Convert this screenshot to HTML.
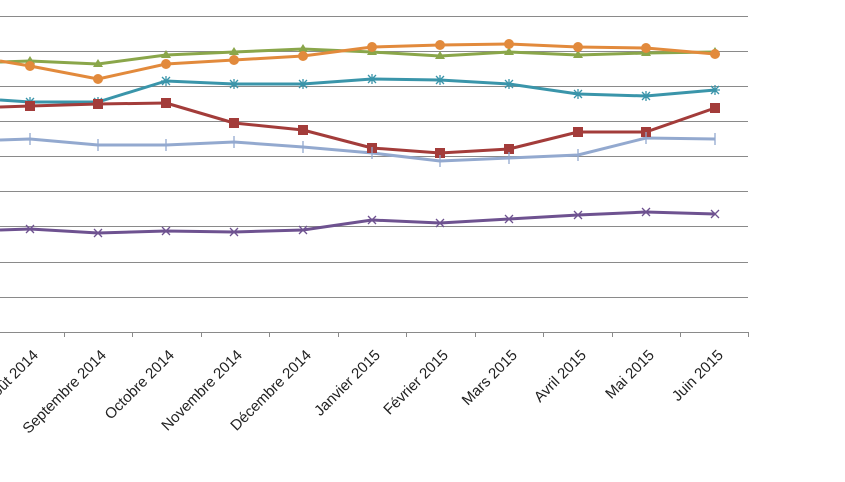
<!DOCTYPE html>
<html><head><meta charset="utf-8"><style>body{margin:0;background:#fff}svg{display:block}</style></head><body>
<svg width="845" height="482" xmlns="http://www.w3.org/2000/svg" font-family="Liberation Sans, sans-serif">
<g stroke="#8a8a8a" stroke-width="1">
<line x1="0" y1="16.5" x2="748" y2="16.5"/><line x1="0" y1="51.5" x2="748" y2="51.5"/><line x1="0" y1="86.5" x2="748" y2="86.5"/><line x1="0" y1="121.5" x2="748" y2="121.5"/><line x1="0" y1="156.5" x2="748" y2="156.5"/><line x1="0" y1="191.5" x2="748" y2="191.5"/><line x1="0" y1="226.5" x2="748" y2="226.5"/><line x1="0" y1="262.5" x2="748" y2="262.5"/><line x1="0" y1="297.5" x2="748" y2="297.5"/><line x1="0" y1="332.5" x2="748" y2="332.5"/>
<path d="M64.5 332v5M132.5 332v5M201.5 332v5M269.5 332v5M338.5 332v5M406.5 332v5M475.5 332v5M543.5 332v5M612.5 332v5M680.5 332v5M748.5 332v5"/>
</g>
<g fill="none" stroke-width="3" stroke-linejoin="round">
<polyline stroke="#8aa64a" points="0,62 30,61 98,64 166,55 234,52 303,49 372,52 440,56 509,52 578,55 646,53 715,52"/>
<polyline stroke="#e28a3c" points="0,61 30,66 98,79 166,64 234,60 303,56 372,47 440,45 509,44 578,47 646,48 715,54"/>
<polyline stroke="#3a95aa" points="0,100 30,102 98,102 166,81 234,84 303,84 372,79 440,80 509,84 578,94 646,96 715,90"/>
<polyline stroke="#a33c3a" points="0,107 30,106 98,104 166,103 234,123 303,130 372,148 440,153 509,149 578,132 646,132 715,108"/>
<polyline stroke="#93a9cf" points="0,140 30,139 98,145 166,145 234,142 303,147 372,153 440,161 509,158 578,155 646,138 715,139"/>
<polyline stroke="#6e5290" points="0,230 30,229 98,233 166,231 234,232 303,230 372,220 440,223 509,219 578,215 646,212 715,214"/>
</g>
<g fill="#8aa64a">
<path d="M30 56l5 8h-10z M98 59l5 8h-10z M166 50l5 8h-10z M234 47l5 8h-10z M303 44l5 8h-10z M372 47l5 8h-10z M440 51l5 8h-10z M509 47l5 8h-10z M578 50l5 8h-10z M646 48l5 8h-10z M715 47l5 8h-10z"/>
</g>
<g fill="#e28a3c">
<circle cx="30" cy="66" r="5"/><circle cx="98" cy="79" r="5"/><circle cx="166" cy="64" r="5"/><circle cx="234" cy="60" r="5"/><circle cx="303" cy="56" r="5"/><circle cx="372" cy="47" r="5"/><circle cx="440" cy="45" r="5"/><circle cx="509" cy="44" r="5"/><circle cx="578" cy="47" r="5"/><circle cx="646" cy="48" r="5"/><circle cx="715" cy="54" r="5"/>
</g>
<g stroke="#3a95aa" stroke-width="1.3">
<path d="M25 102h10M30 97v10M26 98l8 8M34 98l-8 8 M93 102h10M98 97v10M94 98l8 8M102 98l-8 8 M161 81h10M166 76v10M162 77l8 8M170 77l-8 8 M229 84h10M234 79v10M230 80l8 8M238 80l-8 8 M298 84h10M303 79v10M299 80l8 8M307 80l-8 8 M367 79h10M372 74v10M368 75l8 8M376 75l-8 8 M435 80h10M440 75v10M436 76l8 8M444 76l-8 8 M504 84h10M509 79v10M505 80l8 8M513 80l-8 8 M573 94h10M578 89v10M574 90l8 8M582 90l-8 8 M641 96h10M646 91v10M642 92l8 8M650 92l-8 8 M710 90h10M715 85v10M711 86l8 8M719 86l-8 8"/>
</g>
<g fill="#a33c3a">
<rect x="25" y="101" width="10" height="10"/><rect x="93" y="99" width="10" height="10"/><rect x="161" y="98" width="10" height="10"/><rect x="229" y="118" width="10" height="10"/><rect x="298" y="125" width="10" height="10"/><rect x="367" y="143" width="10" height="10"/><rect x="435" y="148" width="10" height="10"/><rect x="504" y="144" width="10" height="10"/><rect x="573" y="127" width="10" height="10"/><rect x="641" y="127" width="10" height="10"/><rect x="710" y="103" width="10" height="10"/>
</g>
<g stroke="#93a9cf" stroke-width="1.3">
<path d="M30 133v12M98 139v12M166 139v12M234 136v12M303 141v12M372 147v12M440 155v12M509 152v12M578 149v12M646 132v12M715 133v12"/>
</g>
<g stroke="#6e5290" stroke-width="1.3">
<path d="M26 225l8 8M34 225l-8 8 M94 229l8 8M102 229l-8 8 M162 227l8 8M170 227l-8 8 M230 228l8 8M238 228l-8 8 M299 226l8 8M307 226l-8 8 M368 216l8 8M376 216l-8 8 M436 219l8 8M444 219l-8 8 M505 215l8 8M513 215l-8 8 M574 211l8 8M582 211l-8 8 M642 208l8 8M650 208l-8 8 M711 210l8 8M719 210l-8 8"/>
</g>
<g font-size="15" fill="#222" text-anchor="end">
<text transform="translate(39,356) rotate(-45)">Août 2014</text>
<text transform="translate(107,356) rotate(-45)">Septembre 2014</text>
<text transform="translate(175,356) rotate(-45)">Octobre 2014</text>
<text transform="translate(243,356) rotate(-45)">Novembre 2014</text>
<text transform="translate(312,356) rotate(-45)">Décembre 2014</text>
<text transform="translate(381,356) rotate(-45)">Janvier 2015</text>
<text transform="translate(449,356) rotate(-45)">Février 2015</text>
<text transform="translate(518,356) rotate(-45)">Mars 2015</text>
<text transform="translate(587,356) rotate(-45)">Avril 2015</text>
<text transform="translate(655,356) rotate(-45)">Mai 2015</text>
<text transform="translate(724,356) rotate(-45)">Juin 2015</text>
</g>
</svg>
</body></html>
